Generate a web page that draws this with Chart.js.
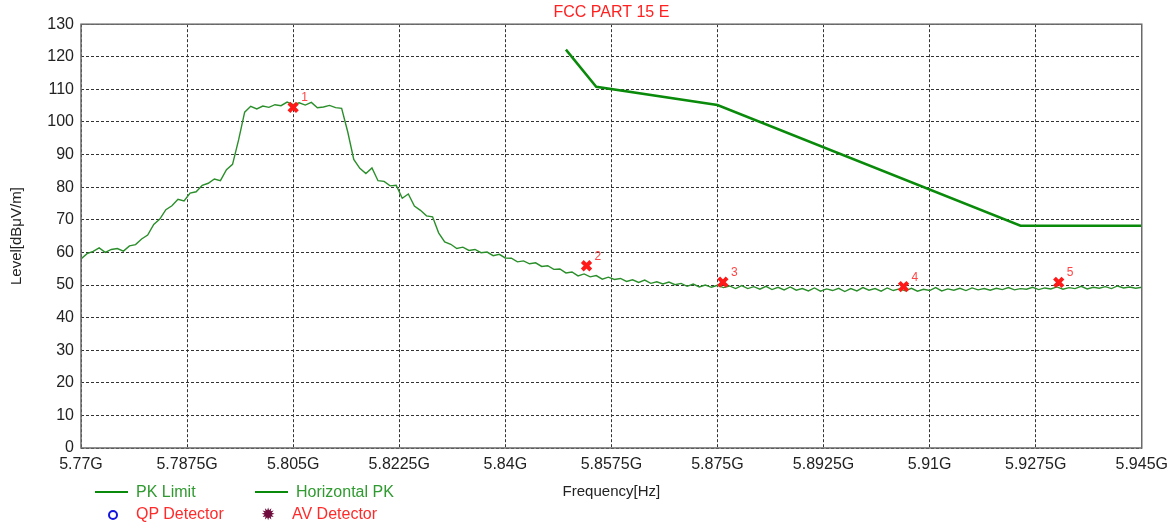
<!DOCTYPE html>
<html>
<head>
<meta charset="utf-8">
<script src="https://cdn.jsdelivr.net/npm/chart.js@4.4.0/dist/chart.umd.min.js"></script>
<style>
    body { margin: 0; background: #fff; }
    #wrap { position: relative; width: 1175px; height: 525px; font-family: Arial, "Liberation Sans", sans-serif; }
    #legend { position: absolute; left: 0; top: 0; width: 100%; height: 100%; pointer-events: none; }
    .item { position: absolute; font-size: 16px; line-height: 18px; white-space: nowrap; }
    .swatch { position: absolute; height: 2px; width: 33px; background: #0a8a0a; }
    .ring { position: absolute; width: 6px; height: 6px; border: 2px solid #1515e0; border-radius: 50%; }
    .star { position: absolute; font-family: "DejaVu Sans", sans-serif; font-size: 17px; color: #6e0a3c; line-height: 18px; }
</style>
</head>
<body>
<div id="wrap">
    <canvas id="emc" width="1175" height="525"></canvas>
    <div id="legend">
        <div class="swatch" style="left:95px; top:491px;"></div>
        <div class="item" style="left:136px; top:483px; color:#2f9a2f;">PK Limit</div>
        <div class="swatch" style="left:255px; top:491px;"></div>
        <div class="item" style="left:296px; top:483px; color:#2f9a2f;">Horizontal PK</div>
        <div class="ring" style="left:108px; top:510px;"></div>
        <div class="item" style="left:136px; top:505px; color:#ff2a2a;">QP Detector</div>
        <div class="star" style="left:261px; top:505px;">✹</div>
        <div class="item" style="left:292px; top:505px; color:#ff2a2a;">AV Detector</div>
    </div>
</div>
<script>
// frequency axis in MHz, labelled in GHz
const xTickValues = [5770, 5787.5, 5805, 5822.5, 5840, 5857.5, 5875, 5892.5, 5910, 5927.5, 5945];
const xTickLabels = ['5.77G', '5.7875G', '5.805G', '5.8225G', '5.84G', '5.8575G', '5.875G', '5.8925G', '5.91G', '5.9275G', '5.945G'];

// FCC 15.407 band edge limit
const limitFreq = [5850, 5855, 5875, 5925, 5945];
const limitLevel = [122.2, 110.8, 105.2, 68.2, 68.2];

// horizontal PK sweep, 1 MHz per point starting at 5770 MHz
const traceStart = 5770;
const traceStep = 1;
const traceLevel = [
    58.0, 59.6, 60.3, 61.4, 60.0, 60.9, 61.2, 60.4, 62.0, 62.4,
    64.1, 65.3, 68.6, 70.2, 73.1, 74.3, 76.3, 75.8, 78.2, 78.6,
    80.6, 81.2, 82.5, 82.0, 85.4, 87.0, 94.5, 103.0, 104.8, 104.0,
    104.9, 104.5, 105.3, 105.0, 106.1, 105.3, 105.9, 105.2, 106.0, 104.4,
    104.6, 105.1, 104.4, 104.2, 97.0, 88.5, 85.8, 84.2, 85.9, 82.0,
    81.8, 80.4, 80.6, 76.6, 77.9, 74.2, 72.9, 71.2, 70.9, 66.0,
    63.2, 62.5, 61.2, 61.6, 60.6, 60.9, 59.9, 60.1, 59.0, 59.4,
    58.3, 58.2, 57.1, 57.4, 56.5, 56.8, 55.7, 55.9, 54.8, 54.9,
    53.7, 54.0, 52.8, 53.4, 52.5, 52.9, 51.8, 52.4, 51.7, 52.0,
    51.1, 51.6, 50.8, 51.5, 50.5, 51.0, 50.3, 50.9, 50.1, 50.5,
    49.6, 50.3, 49.4, 50.0, 49.3, 49.9, 49.2, 49.7, 48.9, 49.8,
    48.9, 49.5, 48.7, 49.6, 48.6, 49.3, 48.5, 49.4, 48.4, 48.9,
    48.2, 49.1, 48.1, 48.8, 48.3, 49.0, 48.0, 48.9, 48.2, 49.2,
    48.4, 48.9, 48.1, 49.1, 48.3, 48.8, 48.2, 49.0, 48.1, 48.7,
    48.3, 49.2, 48.2, 48.8, 48.4, 49.0, 48.3, 49.1, 48.5, 48.9,
    48.4, 49.0, 48.6, 49.2, 48.5, 48.9, 48.7, 49.3, 48.6, 49.1,
    48.8, 49.4, 48.7, 49.2, 48.9, 49.6, 48.8, 49.3, 49.0, 49.5,
    48.9, 49.7, 49.1, 49.4, 49.0, 49.3
];

// marked peaks
const markerFreq = [5805, 5853.4, 5875.9, 5905.7, 5931.3];
const markerLevel = [104.5, 55.9, 50.9, 49.5, 50.8];

const tracePoints = traceLevel.map((v, i) => ({ x: traceStart + i * traceStep, y: v }));
const limitPoints = limitFreq.map((f, i) => ({ x: f, y: limitLevel[i] }));
const markerPoints = markerFreq.map((f, i) => ({ x: f, y: markerLevel[i] }));

// solid frame round the plot area
const framePlugin = {
    id: 'frame',
    afterDraw(chart) {
        const { ctx, chartArea: a } = chart;
        ctx.save();
        ctx.strokeStyle = '#6a6a6a';
        ctx.lineWidth = 1.5;
        ctx.strokeRect(a.left, a.top, a.right - a.left, a.bottom - a.top);
        ctx.restore();
    }
};

// marker numbers next to each peak
const markerLabels = {
    id: 'markerLabels',
    afterDatasetsDraw(chart) {
        const { ctx, scales } = chart;
        ctx.save();
        ctx.fillStyle = '#ff4545';
        ctx.font = '12px Arial, "Liberation Sans", sans-serif';
        markerPoints.forEach((p, i) => {
            const px = scales.x.getPixelForValue(p.x);
            const py = scales.y.getPixelForValue(p.y);
            ctx.fillText(String(i + 1), px + 8, py - 6);
        });
        ctx.restore();
    }
};

const ctx = document.getElementById('emc').getContext('2d');
new Chart(ctx, {
    type: 'line',
    data: {
        datasets: [
            {
                label: 'Markers',
                data: markerPoints,
                showLine: false,
                pointStyle: 'crossRot',
                pointRadius: 6,
                pointBorderWidth: 4,
                pointBorderColor: '#ff1a1a',
                pointBackgroundColor: '#ff1a1a',
                order: 0
            },
            {
                label: 'PK Limit',
                data: limitPoints,
                borderColor: '#0a8a0a',
                borderWidth: 2.5,
                pointRadius: 0,
                tension: 0,
                order: 1
            },
            {
                label: 'Horizontal PK',
                data: tracePoints,
                borderColor: '#2a8f2a',
                borderWidth: 1.4,
                pointRadius: 0,
                tension: 0,
                order: 2
            }
        ]
    },
    options: {
        responsive: false,
        animation: false,
        devicePixelRatio: 1,
        layout: { padding: { left: 0, right: 33, top: 0, bottom: 0 } },
        plugins: {
            legend: { display: false },
            tooltip: { enabled: false },
            title: {
                display: true,
                text: 'FCC PART 15 E',
                color: '#ff2020',
                fullSize: false,
                font: { family: 'Arial, "Liberation Sans", sans-serif', size: 16, weight: 'normal' },
                padding: { top: 3, bottom: 2 }
            }
        },
        scales: {
            x: {
                type: 'linear',
                min: 5770,
                max: 5945,
                afterBuildTicks: scale => {
                    scale.ticks = xTickValues.map(v => ({ value: v }));
                },
                afterFit: scale => { scale.height = 77; },
                ticks: {
                    autoSkip: false,
                    maxRotation: 0,
                    padding: 7,
                    color: '#222',
                    font: { family: 'Arial, "Liberation Sans", sans-serif', size: 16 },
                    callback: value => xTickLabels[xTickValues.indexOf(value)]
                },
                grid: { color: '#333', lineWidth: 1, drawTicks: false },
                border: { display: false, dash: [3, 2] },
                title: {
                    display: true,
                    text: 'Frequency[Hz]',
                    color: '#222',
                    font: { family: 'Arial, "Liberation Sans", sans-serif', size: 15 },
                    padding: { top: 0, bottom: 24 }
                }
            },
            y: {
                min: 0,
                max: 130,
                afterFit: scale => { scale.width = 81; },
                ticks: {
                    stepSize: 10,
                    padding: 7,
                    color: '#222',
                    font: { family: 'Arial, "Liberation Sans", sans-serif', size: 16 }
                },
                grid: { color: '#333', lineWidth: 1, drawTicks: false },
                border: { display: false, dash: [3, 2] },
                title: {
                    display: true,
                    text: 'Level[dBμV/m]',
                    color: '#222',
                    font: { family: 'Arial, "Liberation Sans", sans-serif', size: 15 },
                    padding: { top: 8, bottom: 0 }
                }
            }
        }
    },
    plugins: [framePlugin, markerLabels]
});
</script>
</body>
</html>
